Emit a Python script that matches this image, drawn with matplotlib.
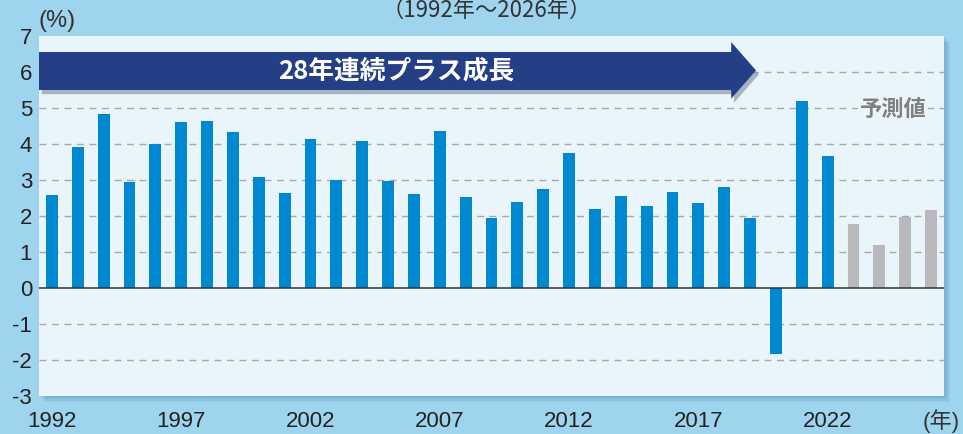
import matplotlib
matplotlib.use("Agg")
import matplotlib.pyplot as plt
from matplotlib.patches import Polygon, Rectangle
import matplotlib.patheffects as pe

years = list(range(1992, 2027))
values = [2.58, 3.92, 4.83, 2.94, 4.00, 4.61, 4.64, 4.33, 3.08, 2.64,
          4.14, 3.00, 4.08, 2.97, 2.61, 4.36, 2.53, 1.94, 2.39, 2.75,
          3.75, 2.19, 2.56, 2.28, 2.67, 2.36, 2.81, 1.94, -1.82, 5.19,
          3.67, 1.78, 1.19, 1.97, 2.17]
forecast_from = 2023
tick_years = [1992, 1997, 2002, 2007, 2012, 2017, 2022]
yticks = [-3, -2, -1, 0, 1, 2, 3, 4, 5, 6, 7]

BG = "#9ed4ee"
PLOT_BG = "#eaf5fb"
BLUE = "#0088d1"
GRAY = "#b9b9bd"
NAVY = "#243f85"

W, H = 963, 434
fig = plt.figure(figsize=(W / 100, H / 100), dpi=100, facecolor=BG)
L, R, T, B = 39, 944, 36, 396
ax = fig.add_axes([L / W, 1 - B / H, (R - L) / W, (B - T) / H])
ax.set_facecolor(PLOT_BG)

# shadow of plot area
for i in range(4):
    off = (i + 1) * 1.5
    fig.patches.append(Rectangle(((L + off) / W, 1 - (B + off) / H), (R - L) / W, (B - T) / H,
                                 transform=fig.transFigure, facecolor="#3f7fa8", alpha=0.10,
                                 edgecolor="none", zorder=-5))

x = list(range(len(years)))
colors = [GRAY if y >= forecast_from else BLUE for y in years]
ax.bar(x, values, width=0.46, color=colors, zorder=3)

ax.set_xlim(-0.5, 34.5)
ax.set_ylim(-3, 7)
ax.set_yticks(yticks)
ax.set_yticklabels([str(v) for v in yticks])
ax.set_xticks([years.index(y) for y in tick_years])
ax.set_xticklabels([str(y) for y in tick_years])
for s in ax.spines.values():
    s.set_visible(False)
ax.tick_params(axis="both", length=0, labelsize=16, colors="#222222")
ax.tick_params(axis="y", pad=5)
ax.tick_params(axis="x", pad=11)
for lab in ax.get_xticklabels() + ax.get_yticklabels():
    lab.set_family(["Liberation Sans", "DejaVu Sans"])

for g in [-2, -1, 1, 2, 3, 4, 5, 6]:
    ax.axhline(g, color="#a8a8a8", lw=1.0, ls=(0, (5, 4)), zorder=1)
ax.axhline(0, color="#333333", lw=1.1, zorder=4)

# banner arrow
pts = [(-0.5, 5.5), (26.27, 5.5), (26.27, 5.26), (27.23, 6.045),
       (26.27, 6.83), (26.27, 6.556), (-0.5, 6.556)]
arrow = Polygon(pts, closed=True, facecolor=NAVY, edgecolor="none", zorder=5, clip_on=False,
                path_effects=[pe.SimplePatchShadow(offset=(2, -3), shadow_rgbFace="#556677", alpha=0.45),
                              pe.Normal()])
ax.add_patch(arrow)
ax.text(13.31, 6.03, "28年連続プラス成長", color="white", fontsize=18.5, fontweight="bold",
        ha="center", va="center", zorder=6, family=["Noto Sans CJK JP", "DejaVu Sans"])

ax.text(32.53, 4.95, "予測値", color="#808080", fontsize=16, fontweight="bold",
        ha="center", va="center", zorder=6, family=["Noto Sans CJK JP", "DejaVu Sans"],
        bbox=dict(facecolor=PLOT_BG, edgecolor="none", pad=1.5))

fig.text(487 / W, 1 - 17 / H, "（1992年～2026年）", fontsize=16, ha="center", va="baseline",
         color="#333333", family=["Noto Sans CJK JP", "DejaVu Sans"])
fig.text(39 / W, 1 - 27 / H, "(%)", fontsize=17, ha="left", va="baseline",
         color="#333333", family=["Liberation Sans", "DejaVu Sans"])
fig.text(960 / W, 1 - 428 / H, "(年)", fontsize=16, ha="right", va="baseline",
         color="#333333", family=["Liberation Sans", "Noto Sans CJK JP"])

fig.savefig("out.png", dpi=100, facecolor=BG)
